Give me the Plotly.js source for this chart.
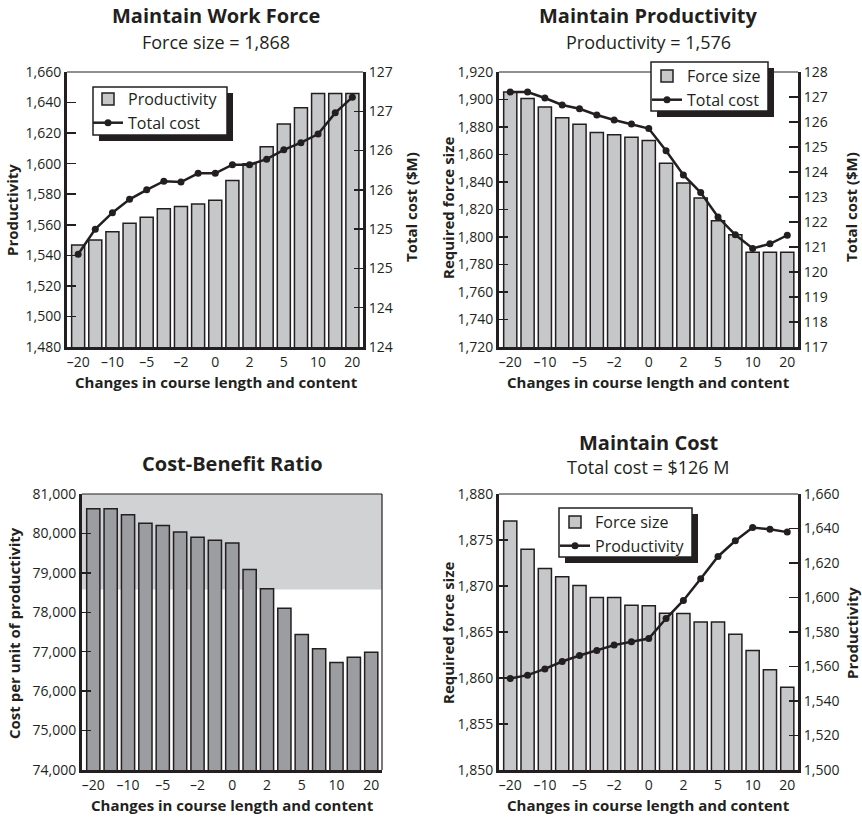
<!DOCTYPE html>
<html><head><meta charset="utf-8">
<script src="https://cdn.plot.ly/plotly-3.0.1.min.js"></script>
<style>html,body{margin:0;padding:0;background:#fff}#chart{width:862px;height:817px}</style>
</head><body><div id="chart"></div>
<script>
// ---- data ----
const xTickLabels = ['\u201320','\u201310','\u20135','\u20132','0','2','5','10','20'];
// Maintain Work Force
const wfProductivity = [1546.7,1550,1555.5,1561,1565,1570.5,1572,1573.6,1576,1589,1600,1611,1626,1636.6,1646,1646,1646];
const wfTotalCost = [125.18,125.50,125.71,125.88,126.00,126.11,126.10,126.21,126.21,126.32,126.32,126.39,126.51,126.60,126.71,126.98,127.18];
const wfCostTicks = [124,124.5,125,125.5,126,126.5,127,127.5];
const wfCostTickText = ['124','124','125','125','126','126','127','127'];
// Maintain Productivity
const mpForceSize = [1905.4,1900.8,1894.5,1886.7,1882,1876,1874.3,1872.6,1870.2,1853.7,1839.3,1828.4,1811.9,1801.7,1789,1789,1789];
const mpTotalCost = [127.2,127.2,126.96,126.68,126.53,126.28,126.08,125.92,125.74,124.85,123.88,123.18,122.2,121.49,120.94,121.13,121.47];
// Cost-Benefit Ratio
const cbRatio = [80628,80628,80475,80255,80204,80035,79900,79824,79756,79087,78597,78105,77437,77073,76726,76861,76988];
const cbBandLow = 78580, cbBandHigh = 81000;
// Maintain Cost
const mcForceSize = [1877.06,1874.0,1871.9,1871.0,1870.06,1868.75,1868.75,1867.9,1867.85,1867.05,1867.0,1866.1,1866.1,1864.76,1862.98,1860.9,1859.0];
const mcProductivity = [1553,1555,1558.6,1562.9,1566.4,1569.3,1572.4,1574.3,1576.2,1587.8,1598.3,1610.9,1623.8,1632.9,1640.6,1639.5,1637.9];

// ---- helpers ----
const W = 862, H = 817;
const px = v => v / W, py = v => 1 - v / H;
const idx = wfProductivity.map((_, i) => i);
const tickIdx = xTickLabels.map((_, i) => i * 2);
const INK = '#231f20';
const FONT = 'Open Sans, Noto Sans, sans-serif';
const BARFILL = '#c6c7c9';
const TICKSIZE = 14;

function xax(x0, x1, anchor) {
  return {domain:[px(x0), px(x1)], anchor, range:[-0.65,16.62], tickvals:tickIdx, ticktext:xTickLabels,
    ticks:'', showline:true, linewidth:3, linecolor:INK, showgrid:false, zeroline:false,
    tickfont:{size:TICKSIZE, color:INK}, fixedrange:true};
}
function yax(y0, y1, anchor, range, dtick, extra) {
  return Object.assign({domain:[py(y1), py(y0)], anchor, range, dtick, tick0:range[0], tickformat:',d',
    ticks:'inside', ticklen:9, tickwidth:1.5, tickcolor:INK, showline:true, linewidth:3, linecolor:INK,
    showgrid:false, zeroline:false, tickfont:{size:TICKSIZE, color:INK}, fixedrange:true}, extra || {});
}
function bar(y, xa, ya, name, legend, color, show) {
  return {type:'bar', x:idx, y, xaxis:xa, yaxis:ya, name, legend, showlegend:show,
    marker:{color, line:{color:INK, width:1.5}}, hoverinfo:'skip'};
}
function line(y, xa, ya, name, legend) {
  return {type:'scatter', mode:'lines+markers', x:idx, y, xaxis:xa, yaxis:ya, name, legend,
    line:{color:INK, width:2.5}, marker:{color:INK, size:7}, hoverinfo:'skip'};
}

const data = [
  bar(wfProductivity, 'x', 'y', 'Productivity', 'legend', BARFILL, true),
  line(wfTotalCost, 'x', 'y2', 'Total cost', 'legend'),
  bar(mpForceSize, 'x2', 'y3', 'Force size', 'legend2', BARFILL, true),
  line(mpTotalCost, 'x2', 'y4', 'Total cost', 'legend2'),
  bar(cbRatio, 'x3', 'y5', 'Cost per unit', 'legend', '#9c9da1', false),
  bar(mcForceSize, 'x4', 'y6', 'Force size', 'legend3', BARFILL, true),
  line(mcProductivity, 'x4', 'y7', 'Productivity', 'legend3')
];

// plot areas (px)
const TL = [67,363,72,347], TR = [499,798,72,347], BL = [82,382,494,770], BR = [499,798,494,770];

function legendAt(x, y) {
  return {x:px(x), y:py(y), xanchor:'left', yanchor:'top', bgcolor:'rgba(0,0,0,0)', borderwidth:0,
    font:{size:16, color:INK, family:FONT}, traceorder:'normal', tracegroupgap:0, itemwidth:30};
}

const ann = [];
function txt(text, x, y, size, bold, angle) {
  ann.push({text: bold ? '<b>' + text + '</b>' : text, x:px(x), y:py(y), xref:'paper', yref:'paper',
    xanchor:'center', yanchor:'middle', showarrow:false, textangle:angle || 0,
    font:{size, color:INK, family:FONT}});
}
const TS = 20, STS = 18, ATS = 15;
txt('Maintain Work Force', 216, 15, TS, true);
txt('Force size = 1,868', 216, 42, STS, false);
txt('Maintain Productivity', 648, 15, TS, true);
txt('Productivity = 1,576', 648, 42, STS, false);
txt('Cost-Benefit Ratio', 232, 463, TS, true);
txt('Maintain Cost', 648, 442, TS, true);
txt('Total cost = $126 M', 648, 467, STS, false);
const XT = 'Changes in course length and content';
txt(XT, 216, 382, ATS, true); txt(XT, 648, 382, ATS, true);
txt(XT, 232, 805, ATS, true); txt(XT, 648, 805, ATS, true);
txt('Productivity', 12, 210, ATS, true, -90);
txt('Total cost ($M)', 411, 207, ATS, true, -90);
txt('Required force size', 448, 208, ATS, true, -90);
txt('Total cost ($M)', 851, 207, ATS, true, -90);
txt('Cost per unit of productivity', 14, 633, ATS, true, -90);
txt('Required force size', 448, 633, ATS, true, -90);
txt('Productivity', 852, 633, ATS, true, -90);

function topLine(xa, ya) {
  return {type:'line', xref:xa + ' domain', yref:ya + ' domain', x0:0, x1:1, y0:1, y1:1, line:{color:INK, width:1.2}};
}
function prect(x0, y0, x1, y1, fill, lw) {
  return {type:'rect', xref:'paper', yref:'paper', x0:px(x0), x1:px(x1), y0:py(y1), y1:py(y0),
    fillcolor:fill, line: lw ? {color:INK, width:lw} : {width:0}, layer:'above'};
}
function legendBox(x0, y0, x1, y1) {
  return [
    prect(x0, y0, x1, y1, '#ffffff', 1.5),
    prect(x1, y0 + 6, x1 + 6, y1 + 6, INK, 0),
    prect(x0 + 6, y1, x1 + 6, y1 + 6, INK, 0)
  ];
}
const shapes = [
  {type:'rect', xref:'x3 domain', yref:'y5', x0:0, x1:1, y0:cbBandLow, y1:cbBandHigh, fillcolor:'#d1d2d4', line:{width:0}, layer:'below'},
  topLine('x','y'), topLine('x2','y3'), topLine('x3','y5'), topLine('x4','y6'),
  {type:'line', xref:'x3 domain', yref:'y5 domain', x0:1, x1:1, y0:0, y1:1, line:{color:INK, width:1.2}},
  ...legendBox(93, 87, 227, 135),
  ...legendBox(651, 62, 768, 111),
  ...legendBox(559, 508, 692, 557)
];

const layout = {
  width:W, height:H, margin:{l:0,r:0,t:0,b:0}, paper_bgcolor:'#fff', plot_bgcolor:'rgba(0,0,0,0)',
  font:{family:FONT, color:INK}, bargap:0.24, showlegend:true,
  xaxis: xax(TL[0], TL[1], 'y'),
  yaxis: yax(TL[2], TL[3], 'x', [1480,1660], 20),
  yaxis2: yax(TL[2], TL[3], 'x', [124,127.5], 0.5, {overlaying:'y', side:'right', tickvals:wfCostTicks, ticktext:wfCostTickText}),
  xaxis2: xax(TR[0], TR[1], 'y3'),
  yaxis3: yax(TR[2], TR[3], 'x2', [1720,1920], 20),
  yaxis4: yax(TR[2], TR[3], 'x2', [117,128], 1, {overlaying:'y3', side:'right'}),
  xaxis3: xax(BL[0], BL[1], 'y5'),
  yaxis5: yax(BL[2], BL[3], 'x3', [74000,81000], 1000),
  xaxis4: xax(BR[0], BR[1], 'y6'),
  yaxis6: yax(BR[2], BR[3], 'x4', [1850,1880], 5),
  yaxis7: yax(BR[2], BR[3], 'x4', [1500,1660], 20, {overlaying:'y6', side:'right'}),
  legend: legendAt(88, 82),
  legend2: legendAt(647, 59),
  legend3: legendAt(555, 505),
  annotations: ann,
  shapes
};
Plotly.newPlot('chart', data, layout, {displayModeBar:false, staticPlot:true});
</script></body></html>
